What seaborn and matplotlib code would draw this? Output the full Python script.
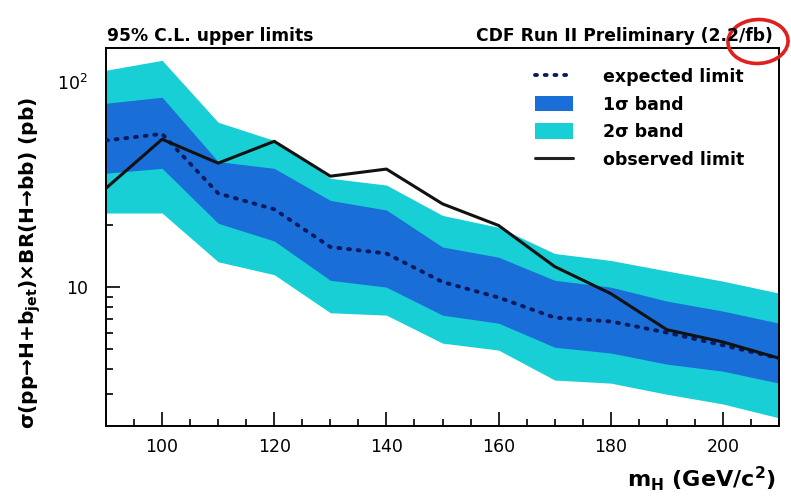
import matplotlib
matplotlib.use("Agg")
import matplotlib.pyplot as plt
import matplotlib.ticker as mticker
from matplotlib.patches import Ellipse, Patch
from matplotlib.lines import Line2D
import seaborn as sns
import pandas as pd

# ---- data ----
mass = [90, 100, 110, 120, 130, 140, 150, 160, 170, 180, 190, 200, 210]
observed = [30.4, 52.7, 40.3, 51.5, 34.8, 37.7, 25.5, 20.0, 12.6, 9.3, 6.2, 5.4, 4.5]
expected = [52.0, 56.0, 28.7, 24.0, 15.7, 14.6, 10.6, 8.9, 7.1, 6.8, 6.0, 5.2, 4.5]
one_sig_hi = [79.0, 84.5, 41.0, 38.0, 26.5, 23.8, 15.7, 14.0, 10.8, 10.0, 8.55, 7.64, 6.67]
one_sig_lo = [36.0, 38.0, 20.5, 16.8, 10.8, 10.0, 7.3, 6.67, 5.09, 4.77, 4.21, 3.89, 3.40]
two_sig_hi = [114.5, 128.0, 63.8, 52.0, 34.0, 31.5, 22.4, 19.6, 14.6, 13.5, 12.0, 10.7, 9.35]
two_sig_lo = [23.0, 23.0, 13.3, 11.5, 7.5, 7.3, 5.33, 4.93, 3.52, 3.4, 3.0, 2.69, 2.30]
legend_labels = ["expected limit", "1\u03c3 band", "2\u03c3 band", "observed limit"]

df = pd.DataFrame({"mass": mass, "observed": observed, "expected": expected,
                   "s1hi": one_sig_hi, "s1lo": one_sig_lo,
                   "s2hi": two_sig_hi, "s2lo": two_sig_lo})

sns.set_theme(style="white")
plt.rcParams["font.family"] = ["DejaVu Sans"]
plt.rcParams["mathtext.default"] = "bf"
plt.rcParams["text.color"] = "black"
plt.rcParams["axes.labelcolor"] = "black"

CYAN = "#17cfd4"
BLUE = "#1a6ed8"
NAVY = "#0a1a5c"

W, H = 791, 496
fig = plt.figure(figsize=(W / 100, H / 100), dpi=100)
ax = fig.add_axes([106 / W, 1 - 426 / H, (779 - 106) / W, (426 - 48) / H])

ax.fill_between(df["mass"], df["s2lo"], df["s2hi"], color=CYAN, lw=0, zorder=1)
ax.fill_between(df["mass"], df["s1lo"], df["s1hi"], color=BLUE, lw=0, zorder=2)
sns.lineplot(data=df, x="mass", y="expected", ax=ax, color=NAVY, lw=2.8,
             dashes=False, zorder=3)
ax.lines[-1].set_dashes([0.5, 2.0])
ax.lines[-1].set_dash_capstyle("round")
sns.lineplot(data=df, x="mass", y="observed", ax=ax, color="#111111", lw=2.2,
             zorder=4)

ax.set_yscale("log")
ax.set_xlim(90, 210)
ax.set_ylim(2.1, 147)

ax.xaxis.set_major_locator(mticker.MultipleLocator(20))
ax.xaxis.set_minor_locator(mticker.MultipleLocator(5))
ax.yaxis.set_major_locator(mticker.FixedLocator([10, 100]))
ax.yaxis.set_major_formatter(mticker.FixedFormatter(["10", r"10$^{\mathregular{ 2}}$"]))
ax.yaxis.set_minor_locator(mticker.LogLocator(subs=range(2, 10)))
ax.yaxis.set_minor_formatter(mticker.NullFormatter())
ax.tick_params(which="both", direction="in", bottom=True, left=True, top=False,
               right=False, labelsize=12.5, colors="black", width=1.2)
ax.tick_params(axis="x", which="both", pad=9)
ax.tick_params(axis="y", which="both", pad=13)
ax.tick_params(which="major", length=10)
ax.tick_params(which="minor", length=5)
for s in ax.spines.values():
    s.set_color("black")
    s.set_linewidth(1.4)

ax.set_xlabel("")
ax.set_ylabel("")
fig.text(776 / W, 1 - 487 / H, r"m$_{\mathbf{H}}$ (GeV/c$^{\mathbf{2}}$)",
         ha="right", va="baseline", fontsize=16, fontweight="bold")
fig.text(30 / W, 1 - 263 / H,
         "\u03c3(pp\u2192H+b$_{jet}$)\u00d7BR(H\u2192bb) (pb)",
         rotation=90, ha="center", va="center", fontsize=14.5, fontweight="bold")

fig.text(107 / W, 1 - 41 / H, "95% C.L. upper limits", ha="left", va="baseline",
         fontsize=12.3, fontweight="bold")
fig.text(773 / W, 1 - 41 / H, "CDF Run II Preliminary (2.2/fb)", ha="right",
         va="baseline", fontsize=12.3, fontweight="bold")

ell = Ellipse((758 / W, 1 - 41.5 / H), 60 / W, 44 / H, angle=-5,
              transform=fig.transFigure, fill=False, edgecolor="#e01f1f", lw=2.6)
fig.add_artist(ell)

handles = [
    Line2D([], [], color=NAVY, lw=2.8, dashes=[0.5, 2.0], dash_capstyle="round"),
    Patch(facecolor=BLUE, edgecolor="none"),
    Patch(facecolor=CYAN, edgecolor="none"),
    Line2D([], [], color="#222222", lw=2.2),
]
leg = ax.legend(handles, legend_labels, loc="upper left",
                bbox_to_anchor=(535 / W, 1 - 68 / H), bbox_transform=fig.transFigure,
                frameon=False, fontsize=12.5, handlelength=2.2, handleheight=1.0,
                handletextpad=1.7, labelspacing=0.55, borderpad=0, borderaxespad=0)
for t in leg.get_texts():
    t.set_fontweight("bold")
    t.set_color("black")

fig.savefig("out.png", dpi=100, facecolor="white")
